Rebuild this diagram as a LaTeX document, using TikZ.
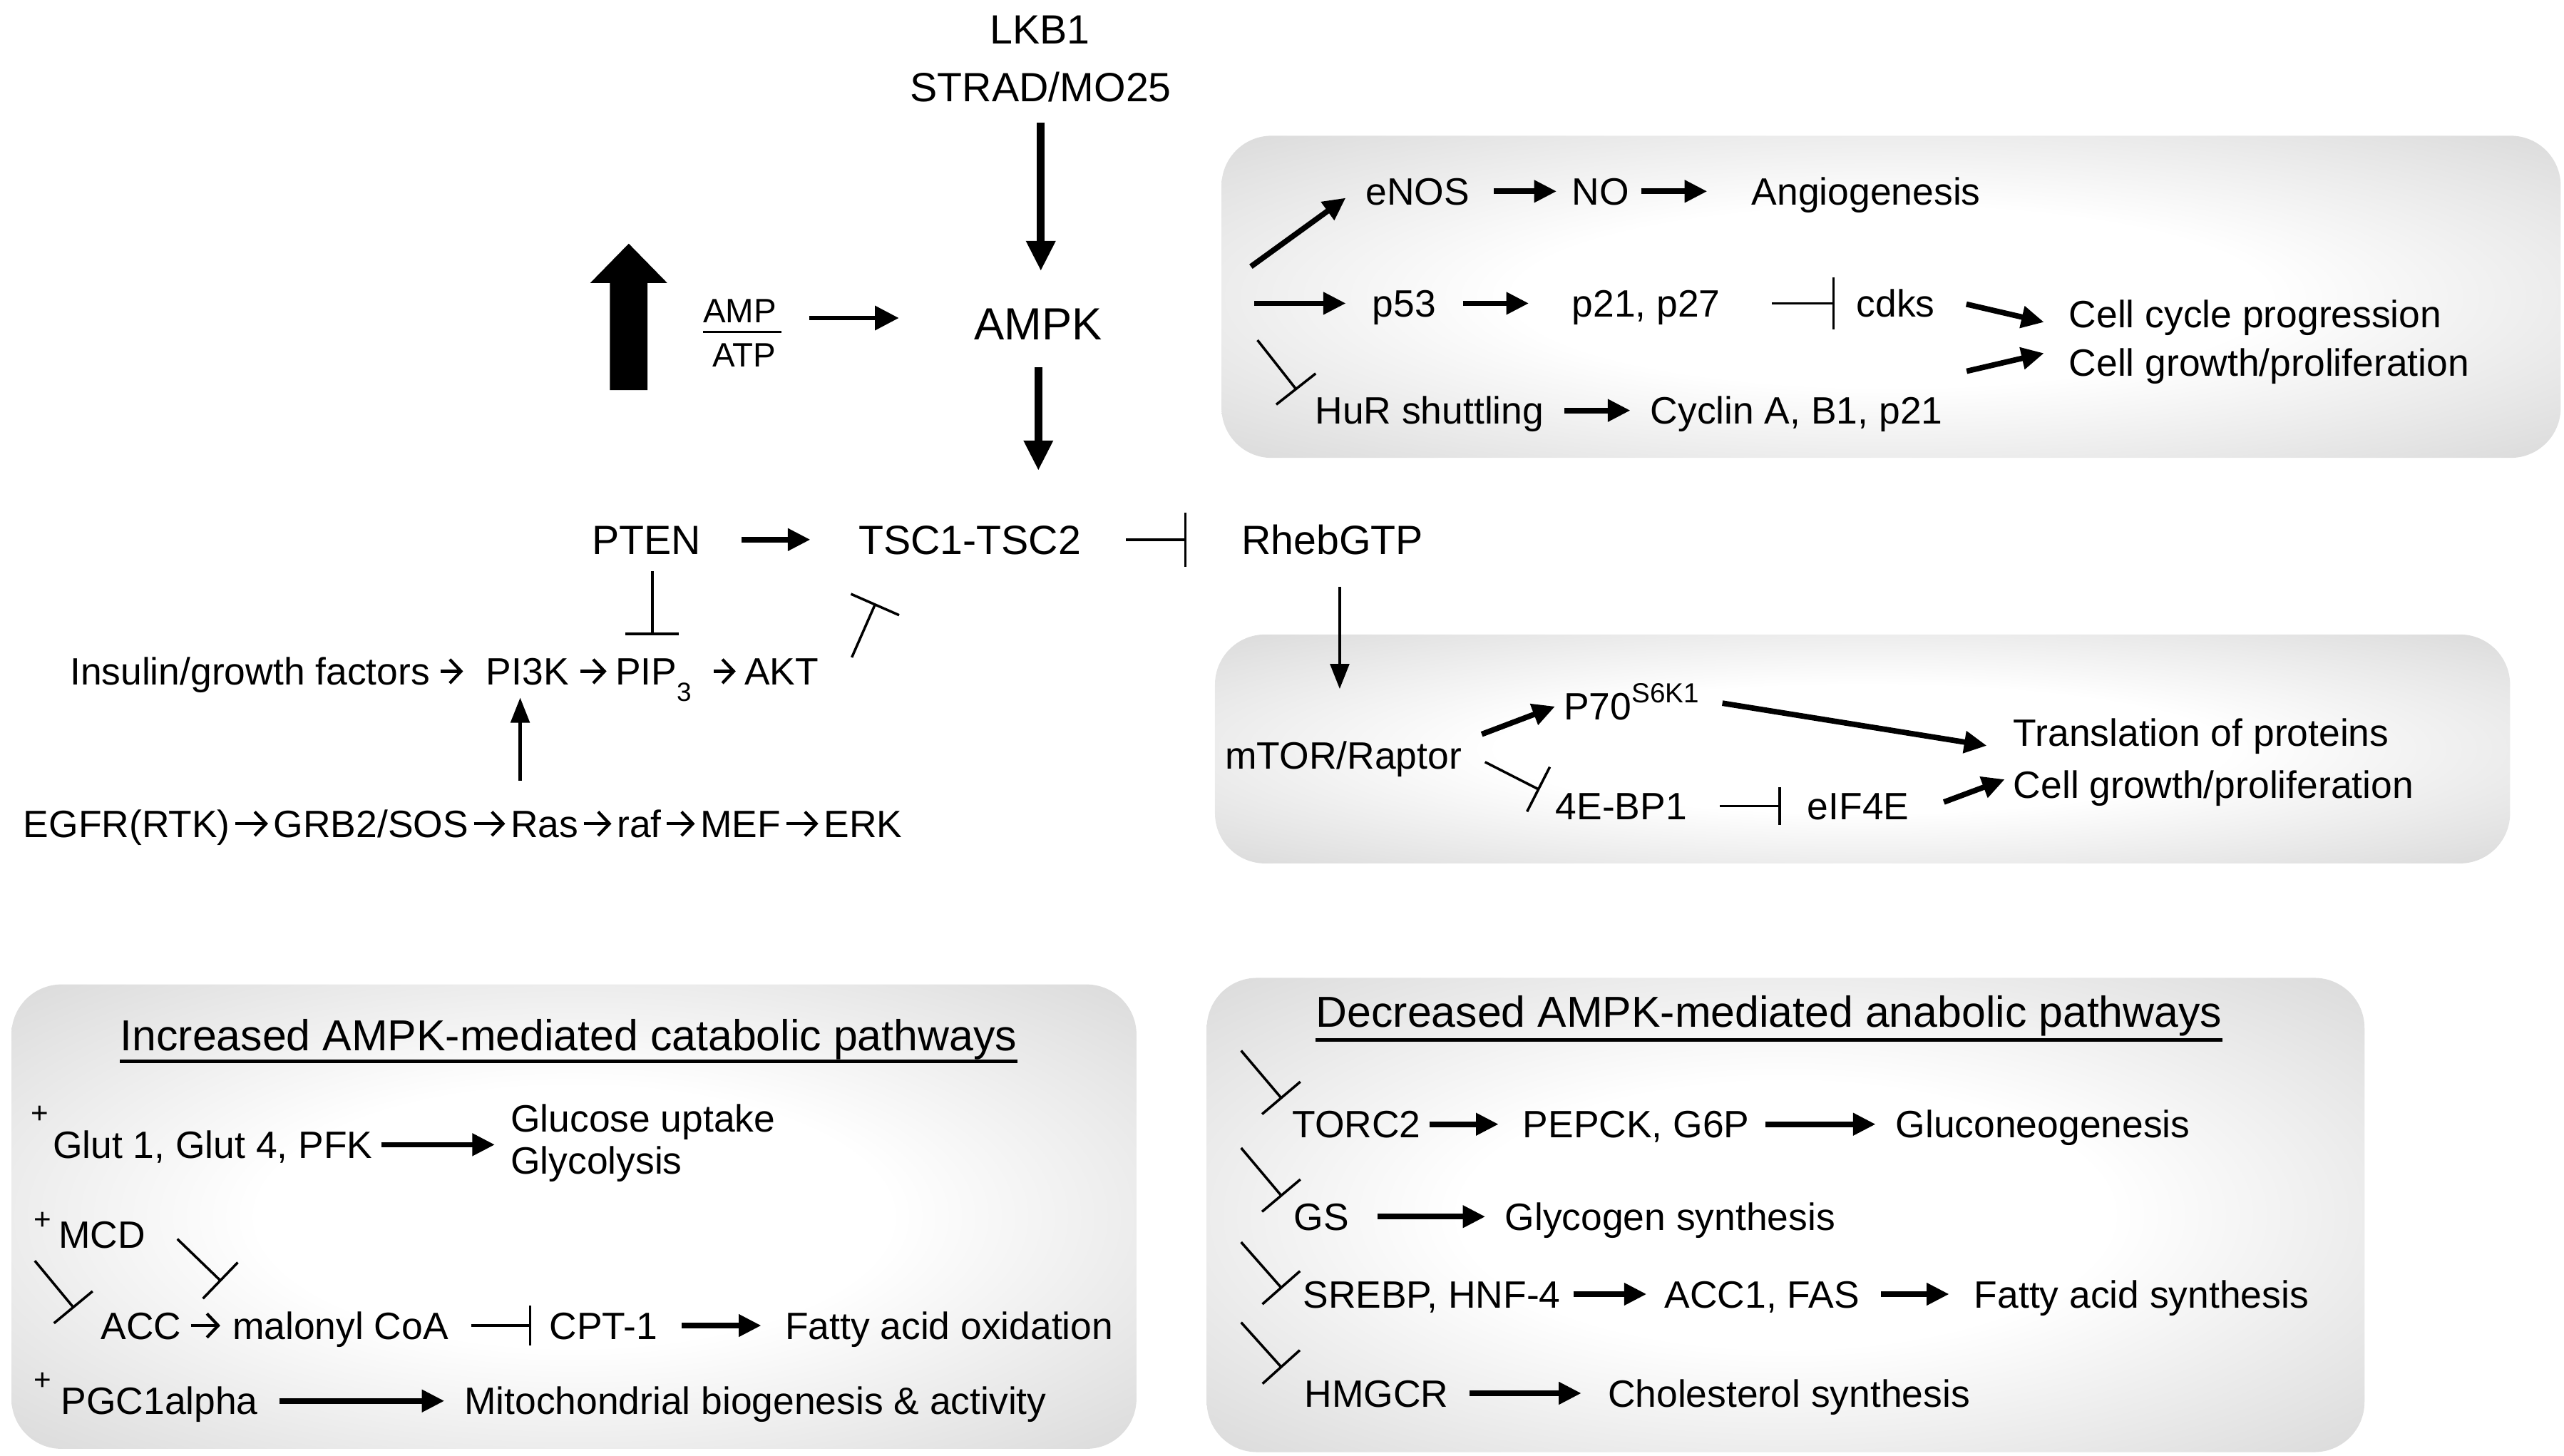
\documentclass[tikz,border=0pt]{standalone}
\usepackage{fontspec}
\setmainfont{Liberation Sans}
\usetikzlibrary{arrows.meta}
\pgfdeclareradialshading{boxshade}{\pgfpoint{0bp}{0bp}}{color(0bp)=(white); color(14bp)=(white); color(50bp)=(black!24)}
\begin{document}
\begin{tikzpicture}[x=0.022934cm, y=-0.022934cm,
  base/.style={inner sep=0pt, text depth=0pt},
  lbl/.style={base, anchor=west},
  cl/.style={base, anchor=center},
  fm/.style={font=\fontsize{16.3}{18}\selectfont, text height=11.7pt},
  fb/.style={font=\fontsize{15.2}{17}\selectfont, text height=10.9pt},
  fr/.style={font=\fontsize{15.2}{17}\selectfont, text height=10.9pt},
  ft/.style={font=\fontsize{17.3}{19}\selectfont, text height=12.4pt},
  fp/.style={font=\fontsize{12}{13}\selectfont, text height=8pt},
  act/.style={line width=2.2pt, -{Triangle[length=9pt,width=8.5pt]}},
  bigact/.style={line width=3.2pt, -{Triangle[length=12pt,width=11pt]}},
  midact/.style={line width=1.6pt, -{Triangle[length=9.5pt,width=9.5pt]}},
  thinact/.style={line width=1.3pt, -{Triangle[length=10pt,width=7.5pt]}},
  glyph/.style={line width=1.2pt, -{Straight Barb[length=4.5pt,width=9.5pt]}},
  inh/.style={line width=1pt, -{Bar[width=20pt]}},
  panel/.style={shading=boxshade, rounded corners=20pt}]
\useasboundingbox (0,0) rectangle (1568,890);

% panels
\shade[panel] (747,83) rectangle (1566,280);
\shade[panel] (743,388) rectangle (1535,528);
\shade[panel] (7,602) rectangle (695,886);
\shade[panel] (738,598) rectangle (1446,888);

% top
\node[cl,fm] (lkb1) at (636,18) {LKB1};
\node[cl,fm] (strad) at (636.5,53) {STRAD/MO25};
\node[cl,font=\fontsize{18}{20}\selectfont, text height=12.9pt] (ampk) at (635,198) {AMPK};
\fill (373,238.6) -- (396,238.6) -- (396,173) -- (408,173) -- (384.5,149) -- (361,173) -- (373,173) -- cycle;
\node[cl,font=\fontsize{13.5}{15}\selectfont, text height=9.7pt] (amp) at (452.5,190) {AMP};
\node[cl,font=\fontsize{13.5}{15}\selectfont, text height=9.7pt] (atp) at (455,217) {ATP};
\draw[line width=1.1pt] (430,203) -- (478,203);
\draw[midact, shorten <=12.8pt, shorten >=30pt] ([yshift=2.3pt]ampk.west -| amp.east) -- ([yshift=2.3pt]ampk.west);
\draw[bigact, shorten <=8.2pt, shorten >=14.4pt] (strad.south) -- (strad.south |- ampk.north);

% middle row
\node[lbl,fm] (pten) at (361.7,330) {PTEN};
\node[lbl,fm] (tsc) at (524.7,330) {TSC1-TSC2};
\node[lbl,fm] (rheb) at (759,330) {RhebGTP};
\draw[bigact, shorten <=10.8pt, shorten >=21.5pt] (ampk.south) -- (ampk.south |- tsc.north);
\draw[act, shorten <=16.1pt, shorten >=19pt] (pten.east) -- (tsc.west);
\draw[inh, -{Bar[width=21.5pt]}, shorten <=17.8pt, shorten >=21.8pt] (tsc.east) -- (rheb.west);

% insulin row
\node[lbl,fr] (ins) at (42.5,410.5) {Insulin/growth factors};
\node[lbl,fr] (pi3k) at (297,410.5) {PI3K};
\node[lbl,fr] (pip) at (376,410.5) {PIP\raisebox{-6.5pt}{\fontsize{10.5}{12}\selectfont 3}};
\node[lbl,fr] (akt) at (455,410.5) {AKT};
\draw[glyph, shorten <=4pt, shorten >=9pt] (ins.east) -- (pi3k.west);
\draw[glyph, shorten <=4.5pt, shorten >=3.3pt] (pi3k.east) -- (pip.west);
\draw[glyph, shorten <=8.8pt, shorten >=3.3pt] (pip.east) -- (akt.west);
\draw[inh, line width=1.2pt, -{Bar[width=21.5pt]}, shorten <=6.6pt, shorten >=8.6pt] ([xshift=2.3pt]pten.south) -- ([xshift=2.3pt]pten.south |- pip.north);
\draw[inh, -{Bar[width=21pt]}] ([shift={(20,-8.5)}]akt.east) -- ([shift={(34.5,-41.5)}]akt.east);

% EGFR row
\node[lbl,fr] (egfr) at (14,503.7) {EGFR(RTK)};
\node[lbl,fr] (grb) at (167,503.7) {GRB2/SOS};
\node[lbl,fr] (ras) at (312,503.7) {Ras};
\node[lbl,fr] (raf) at (377,503.7) {raf};
\node[lbl,fr] (mef) at (428,503.7) {MEF};
\node[lbl,fr] (erk) at (503.5,503.7) {ERK};
\foreach \a/\b in {egfr/grb, grb/ras, ras/raf, raf/mef, mef/erk}
  \draw[glyph, shorten <=2pt, shorten >=2pt] (\a.east) -- (\b.west);
\draw[thinact, shorten <=11.5pt, shorten >=4.9pt] ([xshift=-2.9pt]pi3k.south |- ras.north) -- ([xshift=-2.9pt]pi3k.south);

% top-right panel
\node[lbl,fb] (enos) at (835,117) {eNOS};
\node[lbl,fb] (no) at (961,117) {NO};
\node[lbl,fb] (angio) at (1071,117) {Angiogenesis};
\node[lbl,fb] (p53) at (839,185.5) {p53};
\node[lbl,fb] (p21) at (961,185.5) {p21, p27};
\node[lbl,fb] (cdks) at (1135,185.5) {cdks};
\node[lbl,fb] (ccp) at (1265,192) {Cell cycle progression};
\node[lbl,fb] (cgp) at (1265,221.5) {Cell growth/proliferation};
\node[lbl,fb] (hur) at (804,251) {HuR shuttling};
\node[lbl,fb] (cyc) at (1009,251) {Cyclin A, B1, p21};
\coordinate (src1) at (765,163);
\coordinate (src2) at (767,185.5);
\coordinate (src3) at (769,208);
\draw[act] (src1) -- ([shift={(-12,4)}]enos.west);
\draw[act, shorten >=10.4pt] (src2) -- (p53.west);
\draw[inh] (src3) -- ([shift={(-11,-12.5)}]hur.west);
\draw[act, shorten <=9.5pt, shorten >=5.9pt] (enos.east) -- (no.west);
\draw[act, shorten <=4.6pt, shorten >=17.6pt] (no.east) -- (angio.west);
\draw[act, shorten <=10.5pt, shorten >=17pt] (p53.east) -- (p21.west);
\draw[inh, -{Bar[width=21pt]}, shorten <=20.4pt, shorten >=8.5pt] (p21.east) -- (cdks.west);
\draw[act] ([shift={(19,0.5)}]cdks.east) -- ([shift={(-15,5)}]ccp.west);
\draw[act] ([shift={(14.4,-24)}]cyc.east) -- ([shift={(-15,-5.5)}]cgp.west);
\draw[act, shorten <=8pt, shorten >=7.8pt] (hur.east) -- (cyc.west);

% mTOR panel
\node[lbl,fb] (mtor) at (749,462) {mTOR/Raptor};
\node[lbl,fb] (p70) at (956,432) {P70\raisebox{7pt}{\fontsize{11}{12}\selectfont S6K1}};
\node[lbl,fb] (trans) at (1231,448) {Translation of proteins};
\node[lbl,fb] (cgp2) at (1231,480) {Cell growth/proliferation};
\node[lbl,fb] (ebp) at (951,493) {4E-BP1};
\node[lbl,fb] (eif) at (1105,493) {eIF4E};
\draw[thinact, shorten <=12.8pt, shorten >=20.9pt] ([xshift=2.9pt]rheb.south) -- ([xshift=2.9pt]rheb.south |- mtor.north);
\draw[act] ([shift={(12,-13)}]mtor.east) -- ([shift={(-5,0)}]p70.west);
\draw[act] ([shift={(14,-2)}]p70.east) -- ([shift={(-16,8)}]trans.west);
\draw[inh] ([shift={(14,4)}]mtor.east) -- ([shift={(-9.5,-10)}]ebp.west);
\draw[inh, -{Bar[width=15pt]}, shorten <=12.9pt, shorten >=10.4pt] (ebp.east) -- (eif.west);
\draw[act] ([shift={(21,-2.5)}]eif.east) -- ([shift={(-5,-3.4)}]cgp2.west);

% catabolic panel
\node[lbl,ft] (cattitle) at (73.3,633) {Increased AMPK-mediated catabolic pathways};
\draw[line width=1.5pt] ([yshift=-4pt]cattitle.south west) -- ([yshift=-4pt]cattitle.south east);
\node[cl,fp] (plus1) at (24.5,681) {+};
\node[cl,fp] (plus2) at (26,746) {+};
\node[cl,fp] (plus3) at (26,844) {+};
\node[lbl,fb] (glut) at (32,700) {Glut 1, Glut 4, PFK};
\node[lbl,fb] (glucose) at (312,683.7) {Glucose uptake};
\node[lbl,fb] (glyc) at (312,709.7) {Glycolysis};
\draw[act, shorten <=3.3pt, shorten >=6.1pt] (glut.east) -- (glut.east -| glucose.west);
\node[lbl,fb] (mcd) at (35.5,755) {MCD};
\node[lbl,fb] (acc) at (61.5,810.6) {ACC};
\node[lbl,fb] (malonyl) at (141.9,810.6) {malonyl CoA};
\node[lbl,fb] (cpt) at (335.7,810.6) {CPT-1};
\node[lbl,fb] (fao) at (479.8,810.6) {Fatty acid oxidation};
\node[lbl,fb] (pgc) at (37,856.7) {PGC1alpha};
\node[lbl,fb] (mito) at (283.6,856.7) {Mitochondrial biogenesis \& activity};
\coordinate (src4) at (21.3,771);
\draw[inh] (src4) -- ([shift={(-16.2,-10.6)}]acc.west);
\draw[inh] ([shift={(19.3,2.7)}]mcd.east) -- ([shift={(-6.6,-27)}]malonyl.west);
\draw[glyph, shorten <=3.5pt, shorten >=4.7pt] (acc.east) -- (malonyl.west);
\draw[inh, -{Bar[width=16pt]}, shorten <=8.9pt, shorten >=7pt] (malonyl.east) -- (cpt.west);
\draw[act, shorten <=9.5pt, shorten >=9.3pt] (cpt.east) -- (fao.west);
\draw[act, shorten <=8.3pt, shorten >=7.7pt] (pgc.east) -- (mito.west);

% anabolic panel
\node[lbl,ft] (anatitle) at (804.5,618.4) {Decreased AMPK-mediated anabolic pathways};
\draw[line width=1.5pt] ([yshift=-5pt]anatitle.south west) -- ([yshift=-5pt]anatitle.south east);
\node[lbl,fb] (torc) at (790,687.5) {TORC2};
\node[lbl,fb] (pepck) at (931,687.5) {PEPCK, G6P};
\node[lbl,fb] (gluco) at (1159,687.5) {Gluconeogenesis};
\node[lbl,fb] (gs) at (791,744) {GS};
\node[lbl,fb] (glycogen) at (920,744) {Glycogen synthesis};
\node[lbl,fb] (srebp) at (796.5,791.4) {SREBP, HNF-4};
\node[lbl,fb] (acc1) at (1017.7,791.4) {ACC1, FAS};
\node[lbl,fb] (fas) at (1207,791.4) {Fatty acid synthesis};
\node[lbl,fb] (hmgcr) at (797.5,852) {HMGCR};
\node[lbl,fb] (chol) at (983,852) {Cholesterol synthesis};
\coordinate (a1) at (759,642.5);
\coordinate (a2) at (759,702);
\coordinate (a3) at (759,759.6);
\coordinate (a4) at (759,808.7);
\draw[inh] (a1) -- ([shift={(-6,-15.5)}]torc.west);
\draw[inh] (a2) -- ([shift={(-7,-12.3)}]gs.west);
\draw[inh] (a3) -- ([shift={(-12.5,-3.4)}]srebp.west);
\draw[inh] (a4) -- ([shift={(-13.5,-15.5)}]hmgcr.west);
\draw[act, shorten <=3.2pt, shorten >=9.5pt] (torc.east) -- (pepck.west);
\draw[act, shorten <=6.2pt, shorten >=7.8pt] (pepck.east) -- (gluco.west);
\draw[act, shorten <=11.2pt, shorten >=7.6pt] (gs.east) -- (glycogen.west);
\draw[act, shorten <=4.9pt, shorten >=7pt] (srebp.east) -- (acc1.west);
\draw[act, shorten <=8.4pt, shorten >=9.8pt] (acc1.east) -- (fas.west);
\draw[act, shorten <=8.2pt, shorten >=10.4pt] (hmgcr.east) -- (chol.west);
\end{tikzpicture}
\end{document}
